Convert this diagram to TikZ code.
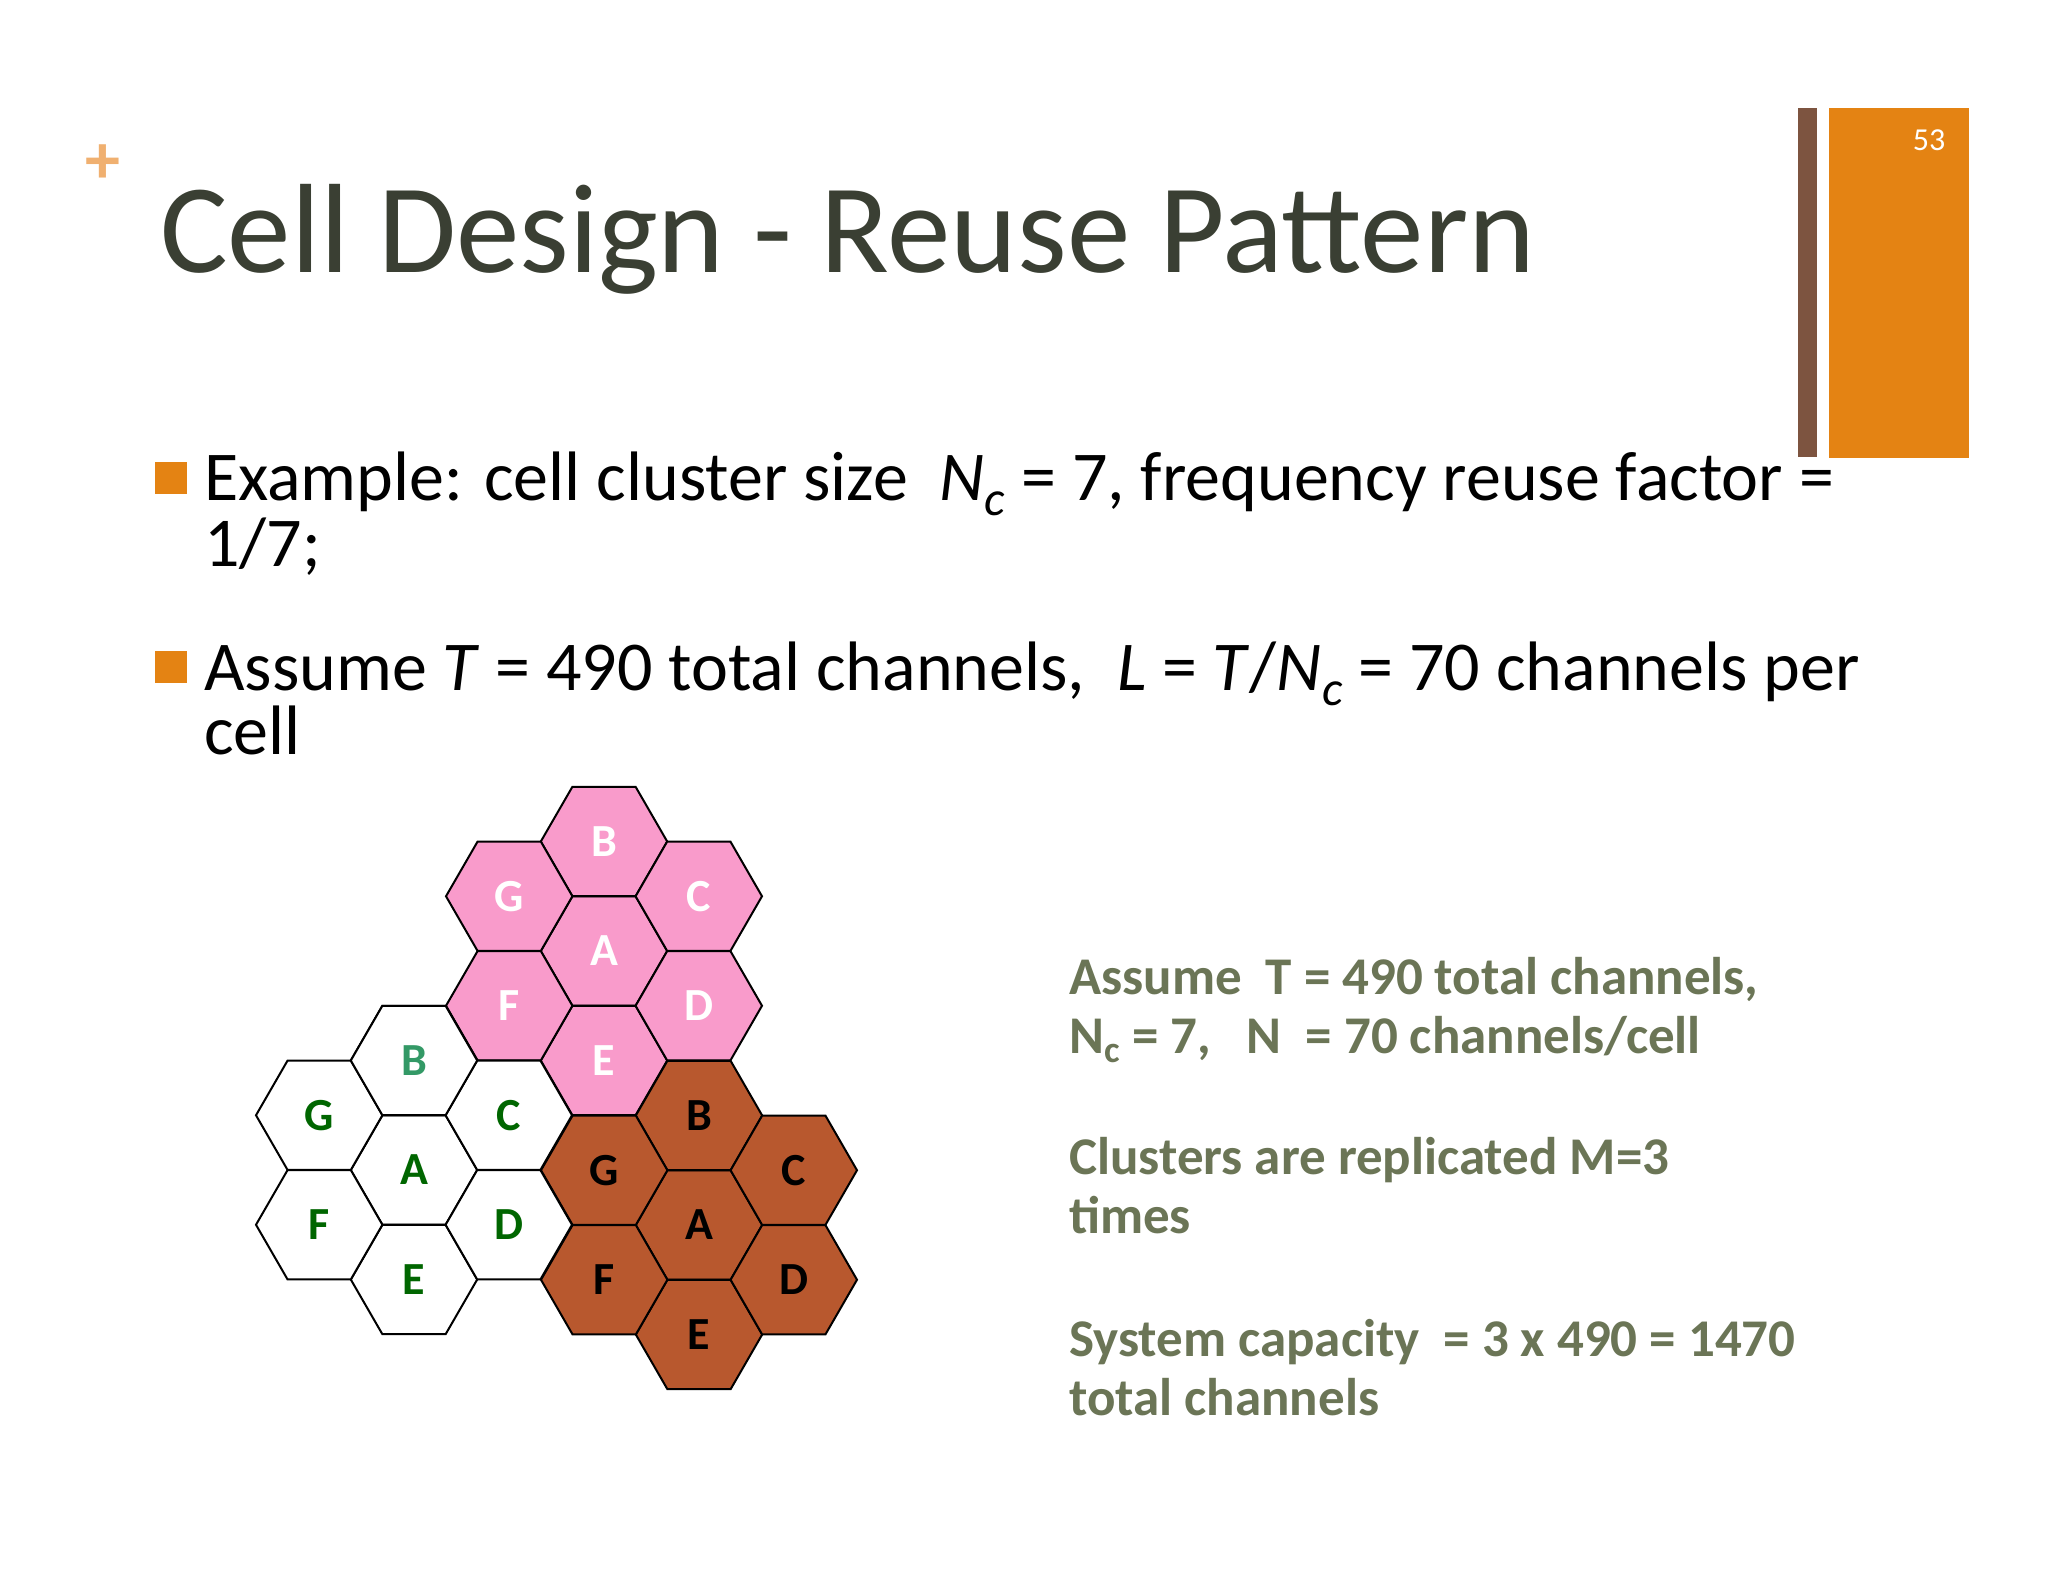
\documentclass[tikz,border=0pt]{standalone}
\usepackage{fontspec}
\setmainfont{Carlito}
\usetikzlibrary{shapes.geometric}
\definecolor{titlec}{HTML}{3A3F33}
\definecolor{pinkc}{HTML}{F99BCB}
\definecolor{brownc}{HTML}{B8582E}
\definecolor{greenc}{HTML}{006600}
\definecolor{tealc}{HTML}{339966}
\definecolor{olivec}{HTML}{6B7556}
\definecolor{orangec}{HTML}{E48313}
\definecolor{barbrown}{HTML}{7D5440}
\definecolor{plusc}{HTML}{F0B070}
\tikzset{
  hexcell/.style={regular polygon, regular polygon sides=6, minimum size=126.4pt, inner sep=0pt, draw=black, line width=2pt, font=\fontsize{46}{50}\selectfont\bfseries},
  bodytext/.style={anchor=base west, inner sep=0pt, font=\fontsize{70}{80}\selectfont},
  sidetext/.style={anchor=base west, inner sep=0pt, text=olivec, font=\fontsize{53}{60}\selectfont\bfseries},
  bulletsq/.style={fill=orangec, draw=none, minimum size=32pt, inner sep=0pt},
}
\begin{document}
\begin{tikzpicture}[x=1pt,y=-1pt]
\useasboundingbox (0,0) rectangle (2048,1582);
\fill[white] (0,0) rectangle (2048,1582);
% decorations
\node[text=plusc, font=\fontsize{70}{70}\selectfont\bfseries, inner sep=0pt] (plus) at (103,164) {+};
\fill[barbrown] (1798,108) rectangle (1817,457);
\fill[orangec] (1829,108) rectangle (1969,458);
\node[text=white, font=\fontsize{32}{36}\selectfont, inner sep=0pt] (pg) at (1929,140) {53};
\node[anchor=base west, inner sep=0pt, text=titlec, font=\fontsize{127}{140}\selectfont] (title) at (160,272) {Cell Design - Reuse Pattern};
% bullets
\node[bulletsq] (b1) at (171,478) {};
\node[bodytext] (t1) at (204,500) {Example: cell cluster size\ \ \textit{N}\textsubscript{\textit{c}} = 7, frequency reuse factor =};
\node[bodytext] (t1b) at (204,566) {1/7;};
\node[bulletsq] (b2) at (171,667) {};
\node[bodytext] (t2) at (204,690) {Assume \textit{T} = 490 total channels,\ \ \textit{L} = \textit{T}/\textit{N}\textsubscript{\textit{c}} = 70 channels per};
\node[bodytext] (t2b) at (204,754) {cell};
% side text
\node[sidetext] (s1) at (1069,994) {Assume\ \ T = 490 total channels,};
\node[sidetext] (s2) at (1069,1053) {N\textsubscript{c} = 7,\ \ \ N\ \ = 70 channels/cell};
\node[sidetext] (s3) at (1069,1174) {Clusters are replicated M=3};
\node[sidetext] (s4) at (1069,1233) {times};
\node[sidetext] (s5) at (1069,1356) {System capacity\ \ = 3 x 490 = 1470};
\node[sidetext] (s6) at (1069,1415) {total channels};
% hex clusters
\def\dx{94.8}\def\hh{109.5}
\foreach \cl/\cx/\cy/\fc/\tc in {p/604/951/pinkc/white, b/699/1225/brownc/black, w/414/1170/white/greenc}{
  \foreach \lab/\ox/\oy in {A/0/0, B/0/-1, E/0/1, G/-1/-0.5, C/1/-0.5, F/-1/0.5, D/1/0.5}{
    \node[hexcell, fill=\fc, text=\tc] (\cl\lab) at ({\cx+\ox*\dx},{\cy+\oy*\hh}) {\lab};
  }
}
\node[hexcell, fill=white, text=tealc] (wB2) at (wB) {B};
\end{tikzpicture}
\end{document}
